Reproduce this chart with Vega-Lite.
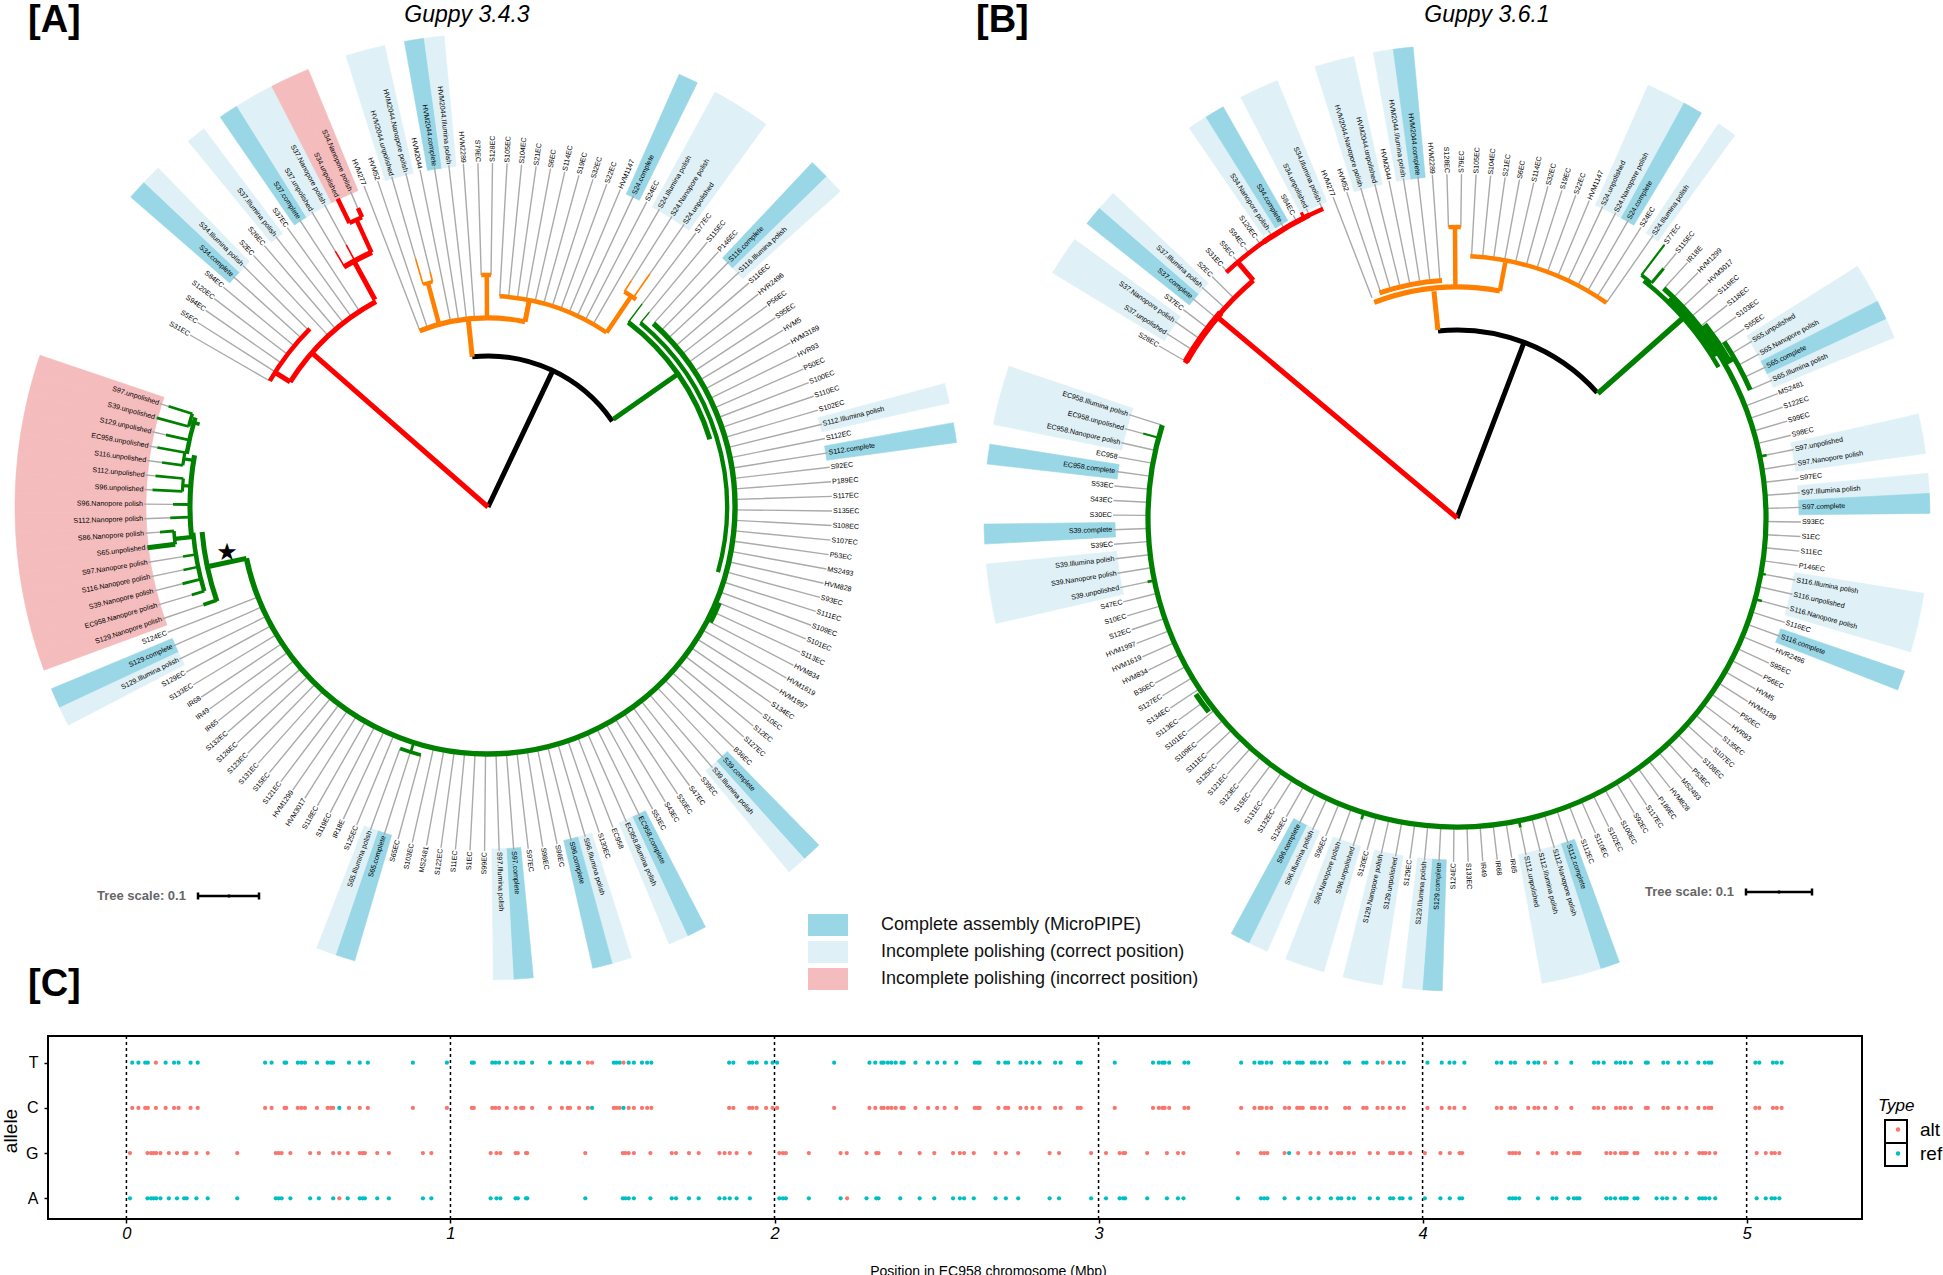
{"$schema":"https://vega.github.io/schema/vega-lite/v6.json","padding":{"left":0,"top":0,"right":0,"bottom":0},"background":"white","spacing":-2,"config":{"font":"Liberation Sans","view":{"stroke":null}},"datasets":{
"leavesA":[{"label":"S31EC","a":300,"r":253},{"label":"S5EC","a":302.43,"r":253},{"label":"S94EC","a":304.86,"r":253},{"label":"S120EC","a":307.29,"r":253},{"label":"S84EC","a":309.72,"r":253},{"label":"S34.complete","a":312.15,"r":253},{"label":"S34.Illumina polish","a":314.58,"r":253},{"label":"S2EC","a":317.01,"r":235},{"label":"S26EC","a":319.44,"r":235},{"label":"S37.Illumina polish","a":321.87,"r":235},{"label":"S37EC","a":324.3,"r":235},{"label":"S37.complete","a":326.73,"r":235},{"label":"S37.unpolished","a":329.16,"r":298},{"label":"S37.Nanopore polish","a":331.59,"r":298},{"label":"S34.unpolished","a":334.02,"r":343},{"label":"S34.Nanopore polish","a":336.45,"r":326},{"label":"HVM277","a":338.88,"r":189},{"label":"HVM52","a":341.31,"r":189},{"label":"HVM2044.unpolished","a":343.74,"r":259},{"label":"HVM2044.Nanopore polish","a":346.17,"r":242},{"label":"HVM2044","a":348.6,"r":190},{"label":"HVM2044.complete","a":351.03,"r":190},{"label":"HVM2044.Illumina polish","a":353.46,"r":190},{"label":"HVM2289","a":355.89,"r":190},{"label":"S79EC","a":358.32,"r":232},{"label":"S128EC","a":0.75,"r":232},{"label":"S105EC","a":3.18,"r":211},{"label":"S104EC","a":5.61,"r":211},{"label":"S21EC","a":8.04,"r":211},{"label":"S6EC","a":10.47,"r":211},{"label":"S114EC","a":12.9,"r":211},{"label":"S19EC","a":15.33,"r":211},{"label":"S32EC","a":17.76,"r":211},{"label":"S22EC","a":20.19,"r":211},{"label":"HVM1147","a":22.62,"r":211},{"label":"S24.complete","a":25.05,"r":211},{"label":"S24EC","a":27.48,"r":211},{"label":"S24.Illumina polish","a":29.91,"r":211},{"label":"S24.Nanopore polish","a":32.34,"r":268},{"label":"S24.unpolished","a":34.77,"r":284},{"label":"S77EC","a":37.2,"r":255},{"label":"S115EC","a":39.63,"r":253},{"label":"P146EC","a":42.06,"r":248},{"label":"S116.complete","a":44.49,"r":248},{"label":"S116.Illumina polish","a":46.92,"r":248},{"label":"S116EC","a":49.35,"r":248},{"label":"HVR2496","a":51.78,"r":248},{"label":"P56EC","a":54.21,"r":248},{"label":"S95EC","a":56.64,"r":248},{"label":"HVM5","a":59.07,"r":248},{"label":"HVM3189","a":61.5,"r":248},{"label":"HVR93","a":63.93,"r":248},{"label":"P50EC","a":66.36,"r":248},{"label":"S100EC","a":68.79,"r":248},{"label":"S110EC","a":71.22,"r":248},{"label":"S102EC","a":73.65,"r":248},{"label":"S112.Illumina polish","a":76.08,"r":248},{"label":"S112EC","a":78.51,"r":248},{"label":"S112.complete","a":80.94,"r":248},{"label":"S92EC","a":83.37,"r":248},{"label":"P189EC","a":85.8,"r":248},{"label":"S117EC","a":88.23,"r":248},{"label":"S135EC","a":90.66,"r":248},{"label":"S108EC","a":93.09,"r":248},{"label":"S107EC","a":95.52,"r":248},{"label":"P53EC","a":97.95,"r":248},{"label":"MS2493","a":100.38,"r":248},{"label":"HVM828","a":102.81,"r":248},{"label":"S93EC","a":105.24,"r":248},{"label":"S111EC","a":107.67,"r":248},{"label":"S109EC","a":110.1,"r":248},{"label":"S101EC","a":112.53,"r":248},{"label":"S113EC","a":114.96,"r":252},{"label":"HVM834","a":117.39,"r":248},{"label":"HVM1619","a":119.82,"r":248},{"label":"HVM1997","a":122.25,"r":248},{"label":"S134EC","a":124.68,"r":248},{"label":"S10EC","a":127.11,"r":248},{"label":"S12EC","a":129.54,"r":248},{"label":"S127EC","a":131.97,"r":248},{"label":"B36EC","a":134.4,"r":248},{"label":"S39.complete","a":136.83,"r":248},{"label":"S39.Illumina polish","a":139.26,"r":248},{"label":"S39EC","a":141.69,"r":248},{"label":"S47EC","a":144.12,"r":248},{"label":"S30EC","a":146.55,"r":248},{"label":"S43EC","a":148.98,"r":248},{"label":"S53EC","a":151.41,"r":248},{"label":"EC958.complete","a":153.84,"r":248},{"label":"EC958.Illumina polish","a":156.27,"r":248},{"label":"EC958","a":158.7,"r":248},{"label":"S130EC","a":161.13,"r":248},{"label":"S96.Illumina polish","a":163.56,"r":248},{"label":"S96.complete","a":165.99,"r":248},{"label":"S96EC","a":168.42,"r":248},{"label":"S98EC","a":170.85,"r":248},{"label":"S97EC","a":173.28,"r":248},{"label":"S97.complete","a":175.71,"r":248},{"label":"S97.Illumina polish","a":178.14,"r":248},{"label":"S99EC","a":180.57,"r":248},{"label":"S1EC","a":183,"r":248},{"label":"S11EC","a":185.43,"r":248},{"label":"S122EC","a":187.86,"r":248},{"label":"MS2481","a":190.29,"r":248},{"label":"S103EC","a":192.72,"r":248},{"label":"S65EC","a":195.15,"r":257},{"label":"S65.complete","a":197.58,"r":257},{"label":"S65.Illumina polish","a":200.01,"r":257},{"label":"S125EC","a":202.44,"r":248},{"label":"IR18E","a":204.87,"r":248},{"label":"S119EC","a":207.3,"r":248},{"label":"S118EC","a":209.73,"r":248},{"label":"HVM3017","a":212.16,"r":248},{"label":"HVM1299","a":214.59,"r":248},{"label":"S121EC","a":217.02,"r":248},{"label":"S15EC","a":219.45,"r":248},{"label":"S131EC","a":221.88,"r":248},{"label":"S123EC","a":224.31,"r":248},{"label":"S126EC","a":226.74,"r":248},{"label":"S132EC","a":229.17,"r":248},{"label":"IR65","a":231.6,"r":248},{"label":"IR49","a":234.03,"r":248},{"label":"IR68","a":236.46,"r":248},{"label":"S133EC","a":238.89,"r":248},{"label":"S129EC","a":241.32,"r":248},{"label":"S129.Illumina polish","a":243.75,"r":248},{"label":"S129.complete","a":246.18,"r":248},{"label":"S124EC","a":248.61,"r":248},{"label":"S129.Nanopore polish","a":251.04,"r":301},{"label":"EC958.Nanopore polish","a":253.47,"r":309},{"label":"S39.Nanopore polish","a":255.9,"r":315},{"label":"S116.Nanopore polish","a":258.33,"r":311},{"label":"S97.Nanopore polish","a":260.76,"r":309},{"label":"S65.unpolished","a":263.19,"r":343},{"label":"S86.Nanopore polish","a":265.62,"r":329},{"label":"S112.Nanopore polish","a":268.05,"r":318},{"label":"S96.Nanopore polish","a":270.48,"r":315},{"label":"S96.unpolished","a":272.91,"r":336},{"label":"S112.unpolished","a":275.34,"r":334},{"label":"S116.unpolished","a":277.77,"r":329},{"label":"EC958.unpolished","a":280.2,"r":336},{"label":"S129.unpolished","a":282.63,"r":330},{"label":"S39.unpolished","a":285.06,"r":343},{"label":"S97.unpolished","a":287.49,"r":335}],
"leavesB":[{"label":"S28EC","a":300,"r":313},{"label":"S37.unpolished","a":302.43,"r":313},{"label":"S37.Nanopore polish","a":304.86,"r":313},{"label":"S37EC","a":307.29,"r":313},{"label":"S37.complete","a":309.72,"r":313},{"label":"S37.Illumina polish","a":312.15,"r":313},{"label":"S2EC","a":314.58,"r":313},{"label":"S31EC","a":317.01,"r":337},{"label":"S5EC","a":319.44,"r":337},{"label":"S94EC","a":321.87,"r":337},{"label":"S120EC","a":324.3,"r":337},{"label":"S34.Nanopore polish","a":326.73,"r":337},{"label":"S34.complete","a":329.16,"r":337},{"label":"S84EC","a":331.59,"r":337},{"label":"S34.unpolished","a":334.02,"r":337},{"label":"S34.Illumina polish","a":336.45,"r":337},{"label":"HVM277","a":338.88,"r":236},{"label":"HVM52","a":341.31,"r":236},{"label":"HVM2044.Nanopore polish","a":343.74,"r":236},{"label":"HVM2044.unpolished","a":346.17,"r":236},{"label":"HVM2044","a":348.6,"r":236},{"label":"HVM2044.Illumina polish","a":351.03,"r":236},{"label":"HVM2044.complete","a":353.46,"r":236},{"label":"HVM2289","a":355.89,"r":236},{"label":"S128EC","a":358.32,"r":291},{"label":"S79EC","a":0.75,"r":291},{"label":"S105EC","a":3.18,"r":263},{"label":"S104EC","a":5.61,"r":263},{"label":"S21EC","a":8.04,"r":263},{"label":"S6EC","a":10.47,"r":263},{"label":"S114EC","a":12.9,"r":263},{"label":"S32EC","a":15.33,"r":263},{"label":"S19EC","a":17.76,"r":263},{"label":"S22EC","a":20.19,"r":263},{"label":"HVM1147","a":22.62,"r":263},{"label":"S24.unpolished","a":25.05,"r":263},{"label":"S24.Nanopore polish","a":27.48,"r":263},{"label":"S24.complete","a":29.91,"r":263},{"label":"S24EC","a":32.34,"r":263},{"label":"S24.Illumina polish","a":34.77,"r":263},{"label":"S77EC","a":37.2,"r":343},{"label":"S115EC","a":39.63,"r":324},{"label":"IR18E","a":42.06,"r":310},{"label":"HVM1299","a":44.49,"r":310},{"label":"HVM3017","a":46.92,"r":310},{"label":"S119EC","a":49.35,"r":310},{"label":"S118EC","a":51.78,"r":310},{"label":"S103EC","a":54.21,"r":310},{"label":"S65EC","a":56.64,"r":310},{"label":"S65.unpolished","a":59.07,"r":322},{"label":"S65.Nanopore polish","a":61.5,"r":322},{"label":"S65.complete","a":63.93,"r":322},{"label":"S65.Illumina polish","a":66.36,"r":322},{"label":"MS2481","a":68.79,"r":310},{"label":"S122EC","a":71.22,"r":310},{"label":"S99EC","a":73.65,"r":310},{"label":"S98EC","a":76.08,"r":310},{"label":"S97.unpolished","a":78.51,"r":316},{"label":"S97.Nanopore polish","a":80.94,"r":310},{"label":"S97EC","a":83.37,"r":310},{"label":"S97.Illumina polish","a":85.8,"r":310},{"label":"S97.complete","a":88.23,"r":310},{"label":"S93EC","a":90.66,"r":310},{"label":"S1EC","a":93.09,"r":310},{"label":"S11EC","a":95.52,"r":310},{"label":"P146EC","a":97.95,"r":310},{"label":"S116.Illumina polish","a":100.38,"r":314},{"label":"S116.unpolished","a":102.81,"r":310},{"label":"S116.Nanopore polish","a":105.24,"r":316},{"label":"S116EC","a":107.67,"r":310},{"label":"S116.complete","a":110.1,"r":310},{"label":"HVR2496","a":112.53,"r":310},{"label":"S95EC","a":114.96,"r":310},{"label":"P56EC","a":117.39,"r":310},{"label":"HVM5","a":119.82,"r":310},{"label":"HVM3189","a":122.25,"r":310},{"label":"P50EC","a":124.68,"r":310},{"label":"HVR93","a":127.11,"r":310},{"label":"S135EC","a":129.54,"r":310},{"label":"S107EC","a":131.97,"r":310},{"label":"S108EC","a":134.4,"r":310},{"label":"P53EC","a":136.83,"r":310},{"label":"MS2493","a":139.26,"r":310},{"label":"HVM828","a":141.69,"r":310},{"label":"P189EC","a":144.12,"r":310},{"label":"S117EC","a":146.55,"r":310},{"label":"S92EC","a":148.98,"r":310},{"label":"S100EC","a":151.41,"r":310},{"label":"S102EC","a":153.84,"r":310},{"label":"S110EC","a":156.27,"r":310},{"label":"S112EC","a":158.7,"r":310},{"label":"S112.complete","a":161.13,"r":310},{"label":"S112.Nanopore polish","a":163.56,"r":310},{"label":"S112.Illumina polish","a":165.99,"r":310},{"label":"S112.unpolished","a":168.42,"r":316},{"label":"IR65","a":170.85,"r":310},{"label":"IR68","a":173.28,"r":310},{"label":"IR49","a":175.71,"r":310},{"label":"S133EC","a":178.14,"r":310},{"label":"S124EC","a":180.57,"r":310},{"label":"S129.complete","a":183,"r":310},{"label":"S129.Illumina polish","a":185.43,"r":310},{"label":"S129EC","a":187.86,"r":310},{"label":"S129.unpolished","a":190.29,"r":310},{"label":"S129.Nanopore polish","a":192.72,"r":310},{"label":"S130EC","a":195.15,"r":310},{"label":"S96.unpolished","a":197.58,"r":316},{"label":"S96.Nanopore polish","a":200.01,"r":310},{"label":"S96EC","a":202.44,"r":310},{"label":"S96.Illumina polish","a":204.87,"r":310},{"label":"S96.complete","a":207.3,"r":310},{"label":"S126EC","a":209.73,"r":310},{"label":"S132EC","a":212.16,"r":310},{"label":"S131EC","a":214.59,"r":310},{"label":"S15EC","a":217.02,"r":310},{"label":"S123EC","a":219.45,"r":310},{"label":"S121EC","a":221.88,"r":310},{"label":"S125EC","a":224.31,"r":310},{"label":"S111EC","a":226.74,"r":310},{"label":"S109EC","a":229.17,"r":310},{"label":"S101EC","a":231.6,"r":310},{"label":"S113EC","a":234.03,"r":315},{"label":"S134EC","a":236.46,"r":310},{"label":"S127EC","a":238.89,"r":310},{"label":"B36EC","a":241.32,"r":310},{"label":"HVM834","a":243.75,"r":310},{"label":"HVM1619","a":246.18,"r":310},{"label":"HVM1997","a":248.61,"r":310},{"label":"S12EC","a":251.04,"r":310},{"label":"S10EC","a":253.47,"r":310},{"label":"S47EC","a":255.9,"r":310},{"label":"S39.unpolished","a":258.33,"r":316},{"label":"S39.Nanopore polish","a":260.76,"r":310},{"label":"S39.Illumina polish","a":263.19,"r":310},{"label":"S39EC","a":265.62,"r":310},{"label":"S39.complete","a":268.05,"r":310},{"label":"S30EC","a":270.48,"r":310},{"label":"S43EC","a":272.91,"r":310},{"label":"S53EC","a":275.34,"r":310},{"label":"EC958.complete","a":277.77,"r":310},{"label":"EC958","a":280.2,"r":310},{"label":"EC958.Nanopore polish","a":282.63,"r":310},{"label":"EC958.unpolished","a":285.06,"r":325},{"label":"EC958.Illumina polish","a":287.49,"r":310}],
"wedgesA":[{"sample":"S34.complete","a":310.935,"a2":313.365,"status":"complete"},{"sample":"S34.Illumina polish","a":313.365,"a2":315.795,"status":"correct"},{"sample":"S37.Illumina polish","a":320.655,"a2":323.085,"status":"correct"},{"sample":"S37.complete","a":325.515,"a2":327.945,"status":"complete"},{"sample":"S37.unpolished","a":327.945,"a2":330.375,"status":"correct"},{"sample":"S37.Nanopore polish","a":330.375,"a2":332.805,"status":"correct"},{"sample":"S34.unpolished","a":332.805,"a2":335.235,"status":"incorrect"},{"sample":"S34.Nanopore polish","a":335.235,"a2":337.665,"status":"incorrect"},{"sample":"HVM2044.unpolished","a":342.525,"a2":344.955,"status":"correct"},{"sample":"HVM2044.Nanopore polish","a":344.955,"a2":347.385,"status":"correct"},{"sample":"HVM2044.complete","a":349.815,"a2":352.245,"status":"complete"},{"sample":"HVM2044.Illumina polish","a":352.245,"a2":354.675,"status":"correct"},{"sample":"S24.complete","a":23.835,"a2":26.265,"status":"complete"},{"sample":"S24.Illumina polish","a":28.695,"a2":31.125,"status":"correct"},{"sample":"S24.Nanopore polish","a":31.125,"a2":33.555,"status":"correct"},{"sample":"S24.unpolished","a":33.555,"a2":35.985,"status":"correct"},{"sample":"S116.complete","a":43.275,"a2":45.705,"status":"complete"},{"sample":"S116.Illumina polish","a":45.705,"a2":48.135,"status":"correct"},{"sample":"S112.Illumina polish","a":74.865,"a2":77.295,"status":"correct"},{"sample":"S112.complete","a":79.725,"a2":82.155,"status":"complete"},{"sample":"S39.complete","a":135.615,"a2":138.045,"status":"complete"},{"sample":"S39.Illumina polish","a":138.045,"a2":140.475,"status":"correct"},{"sample":"EC958.complete","a":152.625,"a2":155.055,"status":"complete"},{"sample":"EC958.Illumina polish","a":155.055,"a2":157.485,"status":"correct"},{"sample":"S96.Illumina polish","a":162.345,"a2":164.775,"status":"correct"},{"sample":"S96.complete","a":164.775,"a2":167.205,"status":"complete"},{"sample":"S97.complete","a":174.495,"a2":176.925,"status":"complete"},{"sample":"S97.Illumina polish","a":176.925,"a2":179.355,"status":"correct"},{"sample":"S65.complete","a":196.365,"a2":198.795,"status":"complete"},{"sample":"S65.Illumina polish","a":198.795,"a2":201.225,"status":"correct"},{"sample":"S129.Illumina polish","a":242.535,"a2":244.965,"status":"correct"},{"sample":"S129.complete","a":244.965,"a2":247.395,"status":"complete"},{"sample":"S129.Nanopore polish","a":249.825,"a2":252.255,"status":"incorrect"},{"sample":"EC958.Nanopore polish","a":252.255,"a2":254.685,"status":"incorrect"},{"sample":"S39.Nanopore polish","a":254.685,"a2":257.115,"status":"incorrect"},{"sample":"S116.Nanopore polish","a":257.115,"a2":259.545,"status":"incorrect"},{"sample":"S97.Nanopore polish","a":259.545,"a2":261.975,"status":"incorrect"},{"sample":"S65.unpolished","a":261.975,"a2":264.405,"status":"incorrect"},{"sample":"S86.Nanopore polish","a":264.405,"a2":266.835,"status":"incorrect"},{"sample":"S112.Nanopore polish","a":266.835,"a2":269.265,"status":"incorrect"},{"sample":"S96.Nanopore polish","a":269.265,"a2":271.695,"status":"incorrect"},{"sample":"S96.unpolished","a":271.695,"a2":274.125,"status":"incorrect"},{"sample":"S112.unpolished","a":274.125,"a2":276.555,"status":"incorrect"},{"sample":"S116.unpolished","a":276.555,"a2":278.985,"status":"incorrect"},{"sample":"EC958.unpolished","a":278.985,"a2":281.415,"status":"incorrect"},{"sample":"S129.unpolished","a":281.415,"a2":283.845,"status":"incorrect"},{"sample":"S39.unpolished","a":283.845,"a2":286.275,"status":"incorrect"},{"sample":"S97.unpolished","a":286.275,"a2":288.705,"status":"incorrect"}],
"wedgesB":[{"sample":"S37.unpolished","a":301.215,"a2":303.645,"status":"correct"},{"sample":"S37.Nanopore polish","a":303.645,"a2":306.075,"status":"correct"},{"sample":"S37.complete","a":308.505,"a2":310.935,"status":"complete"},{"sample":"S37.Illumina polish","a":310.935,"a2":313.365,"status":"correct"},{"sample":"S34.Nanopore polish","a":325.515,"a2":327.945,"status":"correct"},{"sample":"S34.complete","a":327.945,"a2":330.375,"status":"complete"},{"sample":"S34.unpolished","a":332.805,"a2":335.235,"status":"correct"},{"sample":"S34.Illumina polish","a":335.235,"a2":337.665,"status":"correct"},{"sample":"HVM2044.Nanopore polish","a":342.525,"a2":344.955,"status":"correct"},{"sample":"HVM2044.unpolished","a":344.955,"a2":347.385,"status":"correct"},{"sample":"HVM2044.Illumina polish","a":349.815,"a2":352.245,"status":"correct"},{"sample":"HVM2044.complete","a":352.245,"a2":354.675,"status":"complete"},{"sample":"S24.unpolished","a":23.835,"a2":26.265,"status":"correct"},{"sample":"S24.Nanopore polish","a":26.265,"a2":28.695,"status":"correct"},{"sample":"S24.complete","a":28.695,"a2":31.125,"status":"complete"},{"sample":"S24.Illumina polish","a":33.555,"a2":35.985,"status":"correct"},{"sample":"S65.unpolished","a":57.855,"a2":60.285,"status":"correct"},{"sample":"S65.Nanopore polish","a":60.285,"a2":62.715,"status":"correct"},{"sample":"S65.complete","a":62.715,"a2":65.145,"status":"complete"},{"sample":"S65.Illumina polish","a":65.145,"a2":67.575,"status":"correct"},{"sample":"S97.unpolished","a":77.295,"a2":79.725,"status":"correct"},{"sample":"S97.Nanopore polish","a":79.725,"a2":82.155,"status":"correct"},{"sample":"S97.Illumina polish","a":84.585,"a2":87.015,"status":"correct"},{"sample":"S97.complete","a":87.015,"a2":89.445,"status":"complete"},{"sample":"S116.Illumina polish","a":99.165,"a2":101.595,"status":"correct"},{"sample":"S116.unpolished","a":101.595,"a2":104.025,"status":"correct"},{"sample":"S116.Nanopore polish","a":104.025,"a2":106.455,"status":"correct"},{"sample":"S116.complete","a":108.885,"a2":111.315,"status":"complete"},{"sample":"S112.complete","a":159.915,"a2":162.345,"status":"complete"},{"sample":"S112.Nanopore polish","a":162.345,"a2":164.775,"status":"correct"},{"sample":"S112.Illumina polish","a":164.775,"a2":167.205,"status":"correct"},{"sample":"S112.unpolished","a":167.205,"a2":169.635,"status":"correct"},{"sample":"S129.complete","a":181.785,"a2":184.215,"status":"complete"},{"sample":"S129.Illumina polish","a":184.215,"a2":186.645,"status":"correct"},{"sample":"S129.unpolished","a":189.075,"a2":191.505,"status":"correct"},{"sample":"S129.Nanopore polish","a":191.505,"a2":193.935,"status":"correct"},{"sample":"S96.unpolished","a":196.365,"a2":198.795,"status":"correct"},{"sample":"S96.Nanopore polish","a":198.795,"a2":201.225,"status":"correct"},{"sample":"S96.Illumina polish","a":203.655,"a2":206.085,"status":"correct"},{"sample":"S96.complete","a":206.085,"a2":208.515,"status":"complete"},{"sample":"S39.unpolished","a":257.115,"a2":259.545,"status":"correct"},{"sample":"S39.Nanopore polish","a":259.545,"a2":261.975,"status":"correct"},{"sample":"S39.Illumina polish","a":261.975,"a2":264.405,"status":"correct"},{"sample":"S39.complete","a":266.835,"a2":269.265,"status":"complete"},{"sample":"EC958.complete","a":276.555,"a2":278.985,"status":"complete"},{"sample":"EC958.Nanopore polish","a":281.415,"a2":283.845,"status":"correct"},{"sample":"EC958.unpolished","a":283.845,"a2":286.275,"status":"correct"},{"sample":"EC958.Illumina polish","a":286.275,"a2":288.705,"status":"correct"}],
"branchesA":[{"clade":"root","a":25.4,"a2":25.4,"r":0,"r2":151,"support":56},{"clade":"root","a":-6,"a2":55.4,"r":151,"r2":151,"support":56},{"clade":"red","a":311.2,"a2":311.2,"r":0,"r2":234,"support":56},{"clade":"red","a":302.3,"a2":331.4,"r":234,"r2":234,"support":56},{"clade":"red","a":302.3,"a2":302.3,"r":234,"r2":252,"support":56},{"clade":"red","a":300,"a2":315,"r":252,"r2":252,"support":50},{"clade":"red","a":331.4,"a2":331.4,"r":236,"r2":280,"support":56},{"clade":"red","a":329,"a2":335.5,"r":280,"r2":280,"support":60},{"clade":"red","a":335.4,"a2":335.4,"r":280,"r2":316,"support":50},{"clade":"red","a":334,"a2":336.5,"r":316,"r2":316,"support":50},{"clade":"red","a":334,"a2":334,"r":316,"r2":343,"support":50},{"clade":"red","a":336.5,"a2":336.5,"r":316,"r2":326,"support":50},{"clade":"red","a":329.16,"a2":329.16,"r":280,"r2":298,"support":18},{"clade":"red","a":331.59,"a2":331.59,"r":280,"r2":298,"support":18},{"clade":"orange","a":354,"a2":354,"r":151,"r2":189,"support":56},{"clade":"orange","a":-21.2,"a2":11.3,"r":189,"r2":189,"support":56},{"clade":"orange","a":11.3,"a2":11.3,"r":189,"r2":211,"support":56},{"clade":"orange","a":3.18,"a2":34.2,"r":211,"r2":211,"support":50},{"clade":"orange","a":34.2,"a2":34.2,"r":211,"r2":255,"support":50},{"clade":"orange","a":32.34,"a2":35.5,"r":255,"r2":255,"support":50},{"clade":"orange","a":32.34,"a2":32.34,"r":255,"r2":268,"support":18},{"clade":"orange","a":34.77,"a2":34.77,"r":255,"r2":284,"support":18},{"clade":"orange","a":345,"a2":345,"r":189,"r2":232,"support":50},{"clade":"orange","a":343.74,"a2":346.17,"r":232,"r2":232,"support":40},{"clade":"orange","a":343.74,"a2":343.74,"r":232,"r2":259,"support":18},{"clade":"orange","a":346.17,"a2":346.17,"r":232,"r2":242,"support":18},{"clade":"orange","a":359.7,"a2":359.7,"r":189,"r2":232,"support":50},{"clade":"orange","a":358.32,"a2":360.75,"r":232,"r2":232,"support":50},{"clade":"green","a":55,"a2":55,"r":153,"r2":231,"support":56},{"clade":"green","a":37.2,"a2":73,"r":232,"r2":232,"support":56},{"clade":"green","a":39.63,"a2":105.8,"r":239,"r2":239,"support":48},{"clade":"green","a":42.06,"a2":258,"r":247,"r2":247,"support":60},{"clade":"green","a":37.2,"a2":37.2,"r":232,"r2":255,"support":16},{"clade":"green","a":39.63,"a2":39.63,"r":239,"r2":253,"support":16},{"clade":"green","a":112.5,"a2":117.4,"r":251,"r2":251,"support":44},{"clade":"green","a":195.15,"a2":200,"r":257,"r2":257,"support":40},{"clade":"green","a":197.5,"a2":197.5,"r":247,"r2":257,"support":30},{"clade":"green","a":258,"a2":258,"r":247,"r2":287,"support":56},{"clade":"green","a":250.8,"a2":265,"r":287,"r2":287,"support":56},{"clade":"green","a":251.04,"a2":251.04,"r":287,"r2":301,"support":40},{"clade":"green","a":253.47,"a2":265,"r":296,"r2":296,"support":50},{"clade":"green","a":253.47,"a2":253.47,"r":296,"r2":309,"support":32},{"clade":"green","a":255.9,"a2":255.9,"r":296,"r2":315,"support":32},{"clade":"green","a":258.33,"a2":258.33,"r":296,"r2":311,"support":28},{"clade":"green","a":260.76,"a2":260.76,"r":296,"r2":309,"support":28},{"clade":"green","a":264.2,"a2":264.2,"r":296,"r2":315,"support":48},{"clade":"green","a":263.19,"a2":265.62,"r":315,"r2":315,"support":40},{"clade":"green","a":263.19,"a2":263.19,"r":315,"r2":343,"support":56},{"clade":"green","a":265.62,"a2":265.62,"r":315,"r2":329,"support":32},{"clade":"green","a":264,"a2":280,"r":298,"r2":298,"support":56},{"clade":"green","a":268.05,"a2":268.05,"r":298,"r2":318,"support":32},{"clade":"green","a":270.48,"a2":270.48,"r":298,"r2":315,"support":32},{"clade":"green","a":272.91,"a2":275.34,"r":306,"r2":306,"support":36},{"clade":"green","a":272.91,"a2":272.91,"r":306,"r2":336,"support":30},{"clade":"green","a":275.34,"a2":275.34,"r":306,"r2":334,"support":30},{"clade":"green","a":274,"a2":274,"r":298,"r2":306,"support":36},{"clade":"green","a":277.77,"a2":280.2,"r":308,"r2":308,"support":36},{"clade":"green","a":277.77,"a2":277.77,"r":308,"r2":329,"support":30},{"clade":"green","a":280.2,"a2":280.2,"r":308,"r2":336,"support":30},{"clade":"green","a":279,"a2":279,"r":298,"r2":308,"support":36},{"clade":"green","a":280,"a2":287,"r":306,"r2":306,"support":50},{"clade":"green","a":282.63,"a2":282.63,"r":306,"r2":330,"support":30},{"clade":"green","a":285.06,"a2":287.49,"r":310,"r2":310,"support":40},{"clade":"green","a":285.06,"a2":285.06,"r":310,"r2":343,"support":30},{"clade":"green","a":287.49,"a2":287.49,"r":310,"r2":335,"support":30},{"clade":"green","a":286,"a2":286,"r":300,"r2":310,"support":40}],
"branchesB":[{"clade":"root","a":20.9,"a2":20.9,"r":0,"r2":188,"support":56},{"clade":"root","a":-5.8,"a2":48.2,"r":188,"r2":188,"support":56},{"clade":"red","a":310,"a2":310,"r":0,"r2":312,"support":56},{"clade":"red","a":299.7,"a2":319.4,"r":313,"r2":313,"support":56},{"clade":"red","a":300,"a2":311,"r":313,"r2":313,"support":75},{"clade":"red","a":319.4,"a2":319.4,"r":313,"r2":336,"support":56},{"clade":"red","a":316.8,"a2":336.6,"r":337,"r2":337,"support":50},{"clade":"red","a":325,"a2":334,"r":337,"r2":337,"support":60},{"clade":"red","a":333,"a2":333,"r":337,"r2":343,"support":36},{"clade":"orange","a":354.2,"a2":354.2,"r":189,"r2":228,"support":56},{"clade":"orange","a":-21,"a2":10.7,"r":231,"r2":231,"support":56},{"clade":"orange","a":-19,"a2":-3.6,"r":238,"r2":238,"support":56},{"clade":"orange","a":10.7,"a2":10.7,"r":231,"r2":260,"support":50},{"clade":"orange","a":2.9,"a2":34.8,"r":262,"r2":262,"support":50},{"clade":"orange","a":-0.4,"a2":-0.4,"r":231,"r2":291,"support":50},{"clade":"orange","a":-1.68,"a2":0.75,"r":291,"r2":291,"support":50},{"clade":"green","a":48.5,"a2":48.5,"r":188,"r2":302,"support":60},{"clade":"green","a":38.2,"a2":60,"r":302,"r2":302,"support":50},{"clade":"green","a":42,"a2":287.49,"r":309,"r2":309,"support":58},{"clade":"green","a":44,"a2":58,"r":305,"r2":305,"support":70},{"clade":"green","a":56.6,"a2":66.4,"r":320,"r2":320,"support":56},{"clade":"green","a":60,"a2":60,"r":309,"r2":320,"support":56},{"clade":"green","a":37.2,"a2":39.63,"r":305,"r2":305,"support":40},{"clade":"green","a":37.2,"a2":37.2,"r":305,"r2":343,"support":24},{"clade":"green","a":39.63,"a2":39.63,"r":305,"r2":324,"support":34},{"clade":"green","a":52,"a2":60,"r":314,"r2":314,"support":70},{"clade":"green","a":78.51,"a2":78.51,"r":309,"r2":316,"support":30},{"clade":"green","a":105.24,"a2":105.24,"r":309,"r2":316,"support":30},{"clade":"green","a":168.42,"a2":168.42,"r":309,"r2":316,"support":30},{"clade":"green","a":197.58,"a2":197.58,"r":309,"r2":316,"support":30},{"clade":"green","a":232,"a2":236,"r":315,"r2":315,"support":60},{"clade":"green","a":258.33,"a2":258.33,"r":309,"r2":316,"support":30},{"clade":"green","a":285.06,"a2":285.06,"r":309,"r2":325,"support":24},{"clade":"green","a":100.38,"a2":100.38,"r":309,"r2":314,"support":24}],
"snps":[{"pos":0.018,"allele":"T","Type":"ref"},{"pos":0.037,"allele":"T","Type":"ref"},{"pos":0.058,"allele":"T","Type":"ref"},{"pos":0.066,"allele":"T","Type":"ref"},{"pos":0.091,"allele":"T","Type":"alt"},{"pos":0.121,"allele":"T","Type":"ref"},{"pos":0.147,"allele":"T","Type":"ref"},{"pos":0.161,"allele":"T","Type":"ref"},{"pos":0.198,"allele":"T","Type":"ref"},{"pos":0.22,"allele":"T","Type":"ref"},{"pos":0.428,"allele":"T","Type":"ref"},{"pos":0.448,"allele":"T","Type":"ref"},{"pos":0.488,"allele":"T","Type":"ref"},{"pos":0.493,"allele":"T","Type":"ref"},{"pos":0.529,"allele":"T","Type":"ref"},{"pos":0.54,"allele":"T","Type":"ref"},{"pos":0.551,"allele":"T","Type":"ref"},{"pos":0.588,"allele":"T","Type":"ref"},{"pos":0.621,"allele":"T","Type":"ref"},{"pos":0.631,"allele":"T","Type":"ref"},{"pos":0.638,"allele":"T","Type":"ref"},{"pos":0.687,"allele":"T","Type":"ref"},{"pos":0.72,"allele":"T","Type":"ref"},{"pos":0.745,"allele":"T","Type":"ref"},{"pos":0.884,"allele":"T","Type":"ref"},{"pos":0.989,"allele":"T","Type":"ref"},{"pos":1.066,"allele":"T","Type":"ref"},{"pos":1.072,"allele":"T","Type":"ref"},{"pos":1.129,"allele":"T","Type":"ref"},{"pos":1.139,"allele":"T","Type":"ref"},{"pos":1.15,"allele":"T","Type":"ref"},{"pos":1.174,"allele":"T","Type":"ref"},{"pos":1.201,"allele":"T","Type":"ref"},{"pos":1.218,"allele":"T","Type":"ref"},{"pos":1.225,"allele":"T","Type":"ref"},{"pos":1.252,"allele":"T","Type":"ref"},{"pos":1.307,"allele":"T","Type":"ref"},{"pos":1.344,"allele":"T","Type":"ref"},{"pos":1.362,"allele":"T","Type":"ref"},{"pos":1.369,"allele":"T","Type":"ref"},{"pos":1.397,"allele":"T","Type":"ref"},{"pos":1.424,"allele":"T","Type":"alt"},{"pos":1.437,"allele":"T","Type":"alt"},{"pos":1.504,"allele":"T","Type":"ref"},{"pos":1.512,"allele":"T","Type":"ref"},{"pos":1.522,"allele":"T","Type":"ref"},{"pos":1.534,"allele":"T","Type":"alt"},{"pos":1.55,"allele":"T","Type":"ref"},{"pos":1.566,"allele":"T","Type":"ref"},{"pos":1.591,"allele":"T","Type":"ref"},{"pos":1.607,"allele":"T","Type":"ref"},{"pos":1.62,"allele":"T","Type":"ref"},{"pos":1.86,"allele":"T","Type":"ref"},{"pos":1.873,"allele":"T","Type":"ref"},{"pos":1.922,"allele":"T","Type":"ref"},{"pos":1.932,"allele":"T","Type":"ref"},{"pos":1.945,"allele":"T","Type":"ref"},{"pos":1.974,"allele":"T","Type":"ref"},{"pos":1.994,"allele":"T","Type":"ref"},{"pos":2.008,"allele":"T","Type":"ref"},{"pos":2.184,"allele":"T","Type":"ref"},{"pos":2.293,"allele":"T","Type":"ref"},{"pos":2.311,"allele":"T","Type":"ref"},{"pos":2.33,"allele":"T","Type":"ref"},{"pos":2.337,"allele":"T","Type":"ref"},{"pos":2.35,"allele":"T","Type":"ref"},{"pos":2.361,"allele":"T","Type":"ref"},{"pos":2.374,"allele":"T","Type":"ref"},{"pos":2.392,"allele":"T","Type":"ref"},{"pos":2.399,"allele":"T","Type":"ref"},{"pos":2.435,"allele":"T","Type":"ref"},{"pos":2.474,"allele":"T","Type":"ref"},{"pos":2.502,"allele":"T","Type":"ref"},{"pos":2.525,"allele":"T","Type":"ref"},{"pos":2.561,"allele":"T","Type":"ref"},{"pos":2.618,"allele":"T","Type":"ref"},{"pos":2.627,"allele":"T","Type":"ref"},{"pos":2.633,"allele":"T","Type":"ref"},{"pos":2.691,"allele":"T","Type":"ref"},{"pos":2.712,"allele":"T","Type":"ref"},{"pos":2.721,"allele":"T","Type":"ref"},{"pos":2.759,"allele":"T","Type":"ref"},{"pos":2.777,"allele":"T","Type":"ref"},{"pos":2.796,"allele":"T","Type":"ref"},{"pos":2.818,"allele":"T","Type":"ref"},{"pos":2.866,"allele":"T","Type":"ref"},{"pos":2.883,"allele":"T","Type":"ref"},{"pos":2.936,"allele":"T","Type":"ref"},{"pos":2.945,"allele":"T","Type":"ref"},{"pos":3.05,"allele":"T","Type":"ref"},{"pos":3.168,"allele":"T","Type":"ref"},{"pos":3.186,"allele":"T","Type":"ref"},{"pos":3.197,"allele":"T","Type":"ref"},{"pos":3.204,"allele":"T","Type":"ref"},{"pos":3.218,"allele":"T","Type":"ref"},{"pos":3.265,"allele":"T","Type":"ref"},{"pos":3.277,"allele":"T","Type":"ref"},{"pos":3.44,"allele":"T","Type":"ref"},{"pos":3.481,"allele":"T","Type":"ref"},{"pos":3.497,"allele":"T","Type":"ref"},{"pos":3.504,"allele":"T","Type":"ref"},{"pos":3.519,"allele":"T","Type":"ref"},{"pos":3.533,"allele":"T","Type":"ref"},{"pos":3.575,"allele":"T","Type":"ref"},{"pos":3.588,"allele":"T","Type":"ref"},{"pos":3.613,"allele":"T","Type":"ref"},{"pos":3.622,"allele":"T","Type":"ref"},{"pos":3.63,"allele":"T","Type":"ref"},{"pos":3.658,"allele":"T","Type":"ref"},{"pos":3.667,"allele":"T","Type":"ref"},{"pos":3.684,"allele":"T","Type":"ref"},{"pos":3.703,"allele":"T","Type":"ref"},{"pos":3.761,"allele":"T","Type":"ref"},{"pos":3.773,"allele":"T","Type":"ref"},{"pos":3.817,"allele":"T","Type":"ref"},{"pos":3.827,"allele":"T","Type":"ref"},{"pos":3.861,"allele":"T","Type":"ref"},{"pos":3.877,"allele":"T","Type":"alt"},{"pos":3.899,"allele":"T","Type":"ref"},{"pos":3.924,"allele":"T","Type":"ref"},{"pos":3.942,"allele":"T","Type":"ref"},{"pos":4.015,"allele":"T","Type":"ref"},{"pos":4.059,"allele":"T","Type":"ref"},{"pos":4.083,"allele":"T","Type":"ref"},{"pos":4.098,"allele":"T","Type":"ref"},{"pos":4.129,"allele":"T","Type":"ref"},{"pos":4.229,"allele":"T","Type":"ref"},{"pos":4.243,"allele":"T","Type":"ref"},{"pos":4.272,"allele":"T","Type":"ref"},{"pos":4.285,"allele":"T","Type":"ref"},{"pos":4.326,"allele":"T","Type":"ref"},{"pos":4.345,"allele":"T","Type":"ref"},{"pos":4.357,"allele":"T","Type":"ref"},{"pos":4.378,"allele":"T","Type":"alt"},{"pos":4.413,"allele":"T","Type":"ref"},{"pos":4.459,"allele":"T","Type":"ref"},{"pos":4.529,"allele":"T","Type":"ref"},{"pos":4.542,"allele":"T","Type":"ref"},{"pos":4.559,"allele":"T","Type":"ref"},{"pos":4.597,"allele":"T","Type":"ref"},{"pos":4.61,"allele":"T","Type":"ref"},{"pos":4.624,"allele":"T","Type":"ref"},{"pos":4.643,"allele":"T","Type":"ref"},{"pos":4.689,"allele":"T","Type":"ref"},{"pos":4.695,"allele":"T","Type":"ref"},{"pos":4.743,"allele":"T","Type":"ref"},{"pos":4.757,"allele":"T","Type":"ref"},{"pos":4.791,"allele":"T","Type":"ref"},{"pos":4.814,"allele":"T","Type":"ref"},{"pos":4.851,"allele":"T","Type":"ref"},{"pos":4.871,"allele":"T","Type":"ref"},{"pos":4.883,"allele":"T","Type":"ref"},{"pos":4.891,"allele":"T","Type":"ref"},{"pos":5.027,"allele":"T","Type":"ref"},{"pos":5.039,"allele":"T","Type":"ref"},{"pos":5.081,"allele":"T","Type":"ref"},{"pos":5.093,"allele":"T","Type":"ref"},{"pos":5.108,"allele":"T","Type":"ref"},
{"pos":0.018,"allele":"C","Type":"alt"},{"pos":0.037,"allele":"C","Type":"alt"},{"pos":0.058,"allele":"C","Type":"alt"},{"pos":0.066,"allele":"C","Type":"alt"},{"pos":0.091,"allele":"C","Type":"alt"},{"pos":0.121,"allele":"C","Type":"alt"},{"pos":0.147,"allele":"C","Type":"alt"},{"pos":0.161,"allele":"C","Type":"alt"},{"pos":0.198,"allele":"C","Type":"alt"},{"pos":0.22,"allele":"C","Type":"alt"},{"pos":0.428,"allele":"C","Type":"alt"},{"pos":0.448,"allele":"C","Type":"alt"},{"pos":0.488,"allele":"C","Type":"alt"},{"pos":0.493,"allele":"C","Type":"alt"},{"pos":0.529,"allele":"C","Type":"alt"},{"pos":0.54,"allele":"C","Type":"alt"},{"pos":0.551,"allele":"C","Type":"alt"},{"pos":0.588,"allele":"C","Type":"alt"},{"pos":0.621,"allele":"C","Type":"alt"},{"pos":0.631,"allele":"C","Type":"alt"},{"pos":0.638,"allele":"C","Type":"alt"},{"pos":0.657,"allele":"C","Type":"ref"},{"pos":0.687,"allele":"C","Type":"alt"},{"pos":0.72,"allele":"C","Type":"alt"},{"pos":0.745,"allele":"C","Type":"alt"},{"pos":0.884,"allele":"C","Type":"alt"},{"pos":0.989,"allele":"C","Type":"alt"},{"pos":1.066,"allele":"C","Type":"alt"},{"pos":1.072,"allele":"C","Type":"alt"},{"pos":1.129,"allele":"C","Type":"alt"},{"pos":1.139,"allele":"C","Type":"alt"},{"pos":1.15,"allele":"C","Type":"alt"},{"pos":1.174,"allele":"C","Type":"alt"},{"pos":1.201,"allele":"C","Type":"alt"},{"pos":1.218,"allele":"C","Type":"alt"},{"pos":1.225,"allele":"C","Type":"alt"},{"pos":1.252,"allele":"C","Type":"alt"},{"pos":1.307,"allele":"C","Type":"alt"},{"pos":1.344,"allele":"C","Type":"alt"},{"pos":1.362,"allele":"C","Type":"alt"},{"pos":1.369,"allele":"C","Type":"alt"},{"pos":1.397,"allele":"C","Type":"alt"},{"pos":1.424,"allele":"C","Type":"alt"},{"pos":1.437,"allele":"C","Type":"ref"},{"pos":1.504,"allele":"C","Type":"alt"},{"pos":1.512,"allele":"C","Type":"alt"},{"pos":1.522,"allele":"C","Type":"alt"},{"pos":1.534,"allele":"C","Type":"ref"},{"pos":1.55,"allele":"C","Type":"alt"},{"pos":1.566,"allele":"C","Type":"alt"},{"pos":1.591,"allele":"C","Type":"alt"},{"pos":1.607,"allele":"C","Type":"alt"},{"pos":1.62,"allele":"C","Type":"alt"},{"pos":1.86,"allele":"C","Type":"alt"},{"pos":1.873,"allele":"C","Type":"alt"},{"pos":1.922,"allele":"C","Type":"alt"},{"pos":1.932,"allele":"C","Type":"alt"},{"pos":1.945,"allele":"C","Type":"alt"},{"pos":1.974,"allele":"C","Type":"alt"},{"pos":1.994,"allele":"C","Type":"alt"},{"pos":2.008,"allele":"C","Type":"alt"},{"pos":2.184,"allele":"C","Type":"alt"},{"pos":2.293,"allele":"C","Type":"alt"},{"pos":2.311,"allele":"C","Type":"alt"},{"pos":2.33,"allele":"C","Type":"alt"},{"pos":2.337,"allele":"C","Type":"alt"},{"pos":2.35,"allele":"C","Type":"alt"},{"pos":2.361,"allele":"C","Type":"alt"},{"pos":2.374,"allele":"C","Type":"alt"},{"pos":2.392,"allele":"C","Type":"alt"},{"pos":2.399,"allele":"C","Type":"alt"},{"pos":2.435,"allele":"C","Type":"alt"},{"pos":2.474,"allele":"C","Type":"alt"},{"pos":2.502,"allele":"C","Type":"alt"},{"pos":2.525,"allele":"C","Type":"alt"},{"pos":2.561,"allele":"C","Type":"alt"},{"pos":2.618,"allele":"C","Type":"alt"},{"pos":2.627,"allele":"C","Type":"alt"},{"pos":2.633,"allele":"C","Type":"alt"},{"pos":2.691,"allele":"C","Type":"alt"},{"pos":2.712,"allele":"C","Type":"alt"},{"pos":2.721,"allele":"C","Type":"alt"},{"pos":2.759,"allele":"C","Type":"alt"},{"pos":2.777,"allele":"C","Type":"alt"},{"pos":2.796,"allele":"C","Type":"alt"},{"pos":2.818,"allele":"C","Type":"alt"},{"pos":2.866,"allele":"C","Type":"alt"},{"pos":2.883,"allele":"C","Type":"alt"},{"pos":2.936,"allele":"C","Type":"alt"},{"pos":2.945,"allele":"C","Type":"alt"},{"pos":3.05,"allele":"C","Type":"alt"},{"pos":3.168,"allele":"C","Type":"alt"},{"pos":3.186,"allele":"C","Type":"alt"},{"pos":3.197,"allele":"C","Type":"alt"},{"pos":3.204,"allele":"C","Type":"alt"},{"pos":3.218,"allele":"C","Type":"alt"},{"pos":3.265,"allele":"C","Type":"alt"},{"pos":3.277,"allele":"C","Type":"alt"},{"pos":3.44,"allele":"C","Type":"alt"},{"pos":3.481,"allele":"C","Type":"alt"},{"pos":3.497,"allele":"C","Type":"alt"},{"pos":3.504,"allele":"C","Type":"alt"},{"pos":3.519,"allele":"C","Type":"alt"},{"pos":3.533,"allele":"C","Type":"alt"},{"pos":3.575,"allele":"C","Type":"alt"},{"pos":3.588,"allele":"C","Type":"alt"},{"pos":3.613,"allele":"C","Type":"alt"},{"pos":3.622,"allele":"C","Type":"alt"},{"pos":3.63,"allele":"C","Type":"alt"},{"pos":3.658,"allele":"C","Type":"alt"},{"pos":3.667,"allele":"C","Type":"alt"},{"pos":3.684,"allele":"C","Type":"alt"},{"pos":3.703,"allele":"C","Type":"alt"},{"pos":3.761,"allele":"C","Type":"alt"},{"pos":3.773,"allele":"C","Type":"alt"},{"pos":3.817,"allele":"C","Type":"alt"},{"pos":3.827,"allele":"C","Type":"alt"},{"pos":3.861,"allele":"C","Type":"alt"},{"pos":3.877,"allele":"C","Type":"alt"},{"pos":3.899,"allele":"C","Type":"alt"},{"pos":3.924,"allele":"C","Type":"alt"},{"pos":3.942,"allele":"C","Type":"alt"},{"pos":4.015,"allele":"C","Type":"alt"},{"pos":4.059,"allele":"C","Type":"alt"},{"pos":4.083,"allele":"C","Type":"alt"},{"pos":4.098,"allele":"C","Type":"alt"},{"pos":4.129,"allele":"C","Type":"alt"},{"pos":4.229,"allele":"C","Type":"alt"},{"pos":4.243,"allele":"C","Type":"alt"},{"pos":4.272,"allele":"C","Type":"alt"},{"pos":4.285,"allele":"C","Type":"alt"},{"pos":4.326,"allele":"C","Type":"alt"},{"pos":4.345,"allele":"C","Type":"alt"},{"pos":4.357,"allele":"C","Type":"alt"},{"pos":4.378,"allele":"C","Type":"alt"},{"pos":4.413,"allele":"C","Type":"alt"},{"pos":4.459,"allele":"C","Type":"alt"},{"pos":4.529,"allele":"C","Type":"alt"},{"pos":4.542,"allele":"C","Type":"alt"},{"pos":4.559,"allele":"C","Type":"alt"},{"pos":4.597,"allele":"C","Type":"alt"},{"pos":4.61,"allele":"C","Type":"alt"},{"pos":4.624,"allele":"C","Type":"alt"},{"pos":4.643,"allele":"C","Type":"alt"},{"pos":4.689,"allele":"C","Type":"alt"},{"pos":4.695,"allele":"C","Type":"alt"},{"pos":4.743,"allele":"C","Type":"alt"},{"pos":4.757,"allele":"C","Type":"alt"},{"pos":4.791,"allele":"C","Type":"alt"},{"pos":4.814,"allele":"C","Type":"alt"},{"pos":4.851,"allele":"C","Type":"alt"},{"pos":4.871,"allele":"C","Type":"alt"},{"pos":4.883,"allele":"C","Type":"alt"},{"pos":4.891,"allele":"C","Type":"alt"},{"pos":5.027,"allele":"C","Type":"alt"},{"pos":5.039,"allele":"C","Type":"alt"},{"pos":5.081,"allele":"C","Type":"alt"},{"pos":5.093,"allele":"C","Type":"alt"},{"pos":5.108,"allele":"C","Type":"alt"},
{"pos":0.011,"allele":"G","Type":"alt"},{"pos":0.065,"allele":"G","Type":"alt"},{"pos":0.076,"allele":"G","Type":"alt"},{"pos":0.084,"allele":"G","Type":"alt"},{"pos":0.092,"allele":"G","Type":"alt"},{"pos":0.105,"allele":"G","Type":"alt"},{"pos":0.131,"allele":"G","Type":"alt"},{"pos":0.156,"allele":"G","Type":"alt"},{"pos":0.178,"allele":"G","Type":"alt"},{"pos":0.186,"allele":"G","Type":"alt"},{"pos":0.216,"allele":"G","Type":"alt"},{"pos":0.251,"allele":"G","Type":"alt"},{"pos":0.342,"allele":"G","Type":"alt"},{"pos":0.461,"allele":"G","Type":"alt"},{"pos":0.47,"allele":"G","Type":"alt"},{"pos":0.479,"allele":"G","Type":"alt"},{"pos":0.506,"allele":"G","Type":"alt"},{"pos":0.567,"allele":"G","Type":"alt"},{"pos":0.594,"allele":"G","Type":"alt"},{"pos":0.638,"allele":"G","Type":"alt"},{"pos":0.657,"allele":"G","Type":"alt"},{"pos":0.683,"allele":"G","Type":"alt"},{"pos":0.72,"allele":"G","Type":"alt"},{"pos":0.729,"allele":"G","Type":"alt"},{"pos":0.736,"allele":"G","Type":"alt"},{"pos":0.774,"allele":"G","Type":"alt"},{"pos":0.81,"allele":"G","Type":"alt"},{"pos":0.915,"allele":"G","Type":"alt"},{"pos":0.941,"allele":"G","Type":"alt"},{"pos":1.124,"allele":"G","Type":"alt"},{"pos":1.142,"allele":"G","Type":"alt"},{"pos":1.154,"allele":"G","Type":"alt"},{"pos":1.201,"allele":"G","Type":"alt"},{"pos":1.208,"allele":"G","Type":"alt"},{"pos":1.233,"allele":"G","Type":"alt"},{"pos":1.237,"allele":"G","Type":"alt"},{"pos":1.416,"allele":"G","Type":"alt"},{"pos":1.532,"allele":"G","Type":"alt"},{"pos":1.54,"allele":"G","Type":"alt"},{"pos":1.55,"allele":"G","Type":"alt"},{"pos":1.566,"allele":"G","Type":"alt"},{"pos":1.617,"allele":"G","Type":"alt"},{"pos":1.683,"allele":"G","Type":"alt"},{"pos":1.696,"allele":"G","Type":"alt"},{"pos":1.736,"allele":"G","Type":"alt"},{"pos":1.766,"allele":"G","Type":"alt"},{"pos":1.83,"allele":"G","Type":"alt"},{"pos":1.846,"allele":"G","Type":"alt"},{"pos":1.862,"allele":"G","Type":"alt"},{"pos":1.883,"allele":"G","Type":"alt"},{"pos":1.924,"allele":"G","Type":"alt"},{"pos":2.015,"allele":"G","Type":"alt"},{"pos":2.026,"allele":"G","Type":"alt"},{"pos":2.035,"allele":"G","Type":"alt"},{"pos":2.106,"allele":"G","Type":"alt"},{"pos":2.204,"allele":"G","Type":"alt"},{"pos":2.223,"allele":"G","Type":"alt"},{"pos":2.284,"allele":"G","Type":"alt"},{"pos":2.314,"allele":"G","Type":"alt"},{"pos":2.321,"allele":"G","Type":"alt"},{"pos":2.388,"allele":"G","Type":"alt"},{"pos":2.448,"allele":"G","Type":"alt"},{"pos":2.493,"allele":"G","Type":"alt"},{"pos":2.551,"allele":"G","Type":"alt"},{"pos":2.572,"allele":"G","Type":"alt"},{"pos":2.585,"allele":"G","Type":"alt"},{"pos":2.615,"allele":"G","Type":"alt"},{"pos":2.682,"allele":"G","Type":"alt"},{"pos":2.714,"allele":"G","Type":"alt"},{"pos":2.752,"allele":"G","Type":"alt"},{"pos":2.849,"allele":"G","Type":"alt"},{"pos":2.878,"allele":"G","Type":"alt"},{"pos":2.977,"allele":"G","Type":"alt"},{"pos":3.023,"allele":"G","Type":"alt"},{"pos":3.065,"allele":"G","Type":"alt"},{"pos":3.076,"allele":"G","Type":"alt"},{"pos":3.082,"allele":"G","Type":"alt"},{"pos":3.15,"allele":"G","Type":"alt"},{"pos":3.211,"allele":"G","Type":"alt"},{"pos":3.245,"allele":"G","Type":"alt"},{"pos":3.262,"allele":"G","Type":"alt"},{"pos":3.43,"allele":"G","Type":"alt"},{"pos":3.501,"allele":"G","Type":"alt"},{"pos":3.511,"allele":"G","Type":"alt"},{"pos":3.521,"allele":"G","Type":"alt"},{"pos":3.574,"allele":"G","Type":"alt"},{"pos":3.588,"allele":"G","Type":"ref"},{"pos":3.616,"allele":"G","Type":"alt"},{"pos":3.654,"allele":"G","Type":"alt"},{"pos":3.679,"allele":"G","Type":"alt"},{"pos":3.717,"allele":"G","Type":"alt"},{"pos":3.739,"allele":"G","Type":"alt"},{"pos":3.749,"allele":"G","Type":"alt"},{"pos":3.772,"allele":"G","Type":"alt"},{"pos":3.788,"allele":"G","Type":"alt"},{"pos":3.837,"allele":"G","Type":"alt"},{"pos":3.862,"allele":"G","Type":"alt"},{"pos":3.9,"allele":"G","Type":"alt"},{"pos":3.909,"allele":"G","Type":"alt"},{"pos":3.93,"allele":"G","Type":"alt"},{"pos":3.938,"allele":"G","Type":"alt"},{"pos":3.962,"allele":"G","Type":"alt"},{"pos":4.007,"allele":"G","Type":"alt"},{"pos":4.055,"allele":"G","Type":"alt"},{"pos":4.084,"allele":"G","Type":"alt"},{"pos":4.114,"allele":"G","Type":"alt"},{"pos":4.122,"allele":"G","Type":"alt"},{"pos":4.268,"allele":"G","Type":"alt"},{"pos":4.278,"allele":"G","Type":"alt"},{"pos":4.287,"allele":"G","Type":"alt"},{"pos":4.298,"allele":"G","Type":"alt"},{"pos":4.356,"allele":"G","Type":"alt"},{"pos":4.401,"allele":"G","Type":"alt"},{"pos":4.413,"allele":"G","Type":"alt"},{"pos":4.45,"allele":"G","Type":"alt"},{"pos":4.467,"allele":"G","Type":"alt"},{"pos":4.476,"allele":"G","Type":"alt"},{"pos":4.484,"allele":"G","Type":"alt"},{"pos":4.567,"allele":"G","Type":"alt"},{"pos":4.58,"allele":"G","Type":"alt"},{"pos":4.594,"allele":"G","Type":"alt"},{"pos":4.612,"allele":"G","Type":"alt"},{"pos":4.622,"allele":"G","Type":"alt"},{"pos":4.63,"allele":"G","Type":"alt"},{"pos":4.654,"allele":"G","Type":"alt"},{"pos":4.663,"allele":"G","Type":"alt"},{"pos":4.722,"allele":"G","Type":"alt"},{"pos":4.74,"allele":"G","Type":"alt"},{"pos":4.754,"allele":"G","Type":"alt"},{"pos":4.778,"allele":"G","Type":"alt"},{"pos":4.815,"allele":"G","Type":"alt"},{"pos":4.854,"allele":"G","Type":"alt"},{"pos":4.864,"allele":"G","Type":"alt"},{"pos":4.873,"allele":"G","Type":"alt"},{"pos":4.885,"allele":"G","Type":"alt"},{"pos":4.903,"allele":"G","Type":"alt"},{"pos":5.031,"allele":"G","Type":"alt"},{"pos":5.059,"allele":"G","Type":"alt"},{"pos":5.077,"allele":"G","Type":"alt"},{"pos":5.087,"allele":"G","Type":"alt"},{"pos":5.101,"allele":"G","Type":"alt"},
{"pos":0.011,"allele":"A","Type":"ref"},{"pos":0.065,"allele":"A","Type":"ref"},{"pos":0.076,"allele":"A","Type":"ref"},{"pos":0.084,"allele":"A","Type":"ref"},{"pos":0.092,"allele":"A","Type":"ref"},{"pos":0.105,"allele":"A","Type":"ref"},{"pos":0.131,"allele":"A","Type":"ref"},{"pos":0.156,"allele":"A","Type":"ref"},{"pos":0.178,"allele":"A","Type":"ref"},{"pos":0.186,"allele":"A","Type":"ref"},{"pos":0.216,"allele":"A","Type":"ref"},{"pos":0.251,"allele":"A","Type":"ref"},{"pos":0.342,"allele":"A","Type":"ref"},{"pos":0.461,"allele":"A","Type":"ref"},{"pos":0.47,"allele":"A","Type":"ref"},{"pos":0.479,"allele":"A","Type":"ref"},{"pos":0.506,"allele":"A","Type":"ref"},{"pos":0.567,"allele":"A","Type":"ref"},{"pos":0.594,"allele":"A","Type":"ref"},{"pos":0.638,"allele":"A","Type":"ref"},{"pos":0.657,"allele":"A","Type":"alt"},{"pos":0.683,"allele":"A","Type":"ref"},{"pos":0.72,"allele":"A","Type":"ref"},{"pos":0.729,"allele":"A","Type":"ref"},{"pos":0.736,"allele":"A","Type":"ref"},{"pos":0.774,"allele":"A","Type":"ref"},{"pos":0.81,"allele":"A","Type":"ref"},{"pos":0.915,"allele":"A","Type":"ref"},{"pos":0.941,"allele":"A","Type":"ref"},{"pos":1.124,"allele":"A","Type":"ref"},{"pos":1.142,"allele":"A","Type":"ref"},{"pos":1.154,"allele":"A","Type":"ref"},{"pos":1.201,"allele":"A","Type":"ref"},{"pos":1.208,"allele":"A","Type":"ref"},{"pos":1.233,"allele":"A","Type":"ref"},{"pos":1.237,"allele":"A","Type":"ref"},{"pos":1.416,"allele":"A","Type":"ref"},{"pos":1.532,"allele":"A","Type":"ref"},{"pos":1.54,"allele":"A","Type":"ref"},{"pos":1.55,"allele":"A","Type":"ref"},{"pos":1.566,"allele":"A","Type":"ref"},{"pos":1.617,"allele":"A","Type":"ref"},{"pos":1.683,"allele":"A","Type":"ref"},{"pos":1.696,"allele":"A","Type":"ref"},{"pos":1.736,"allele":"A","Type":"ref"},{"pos":1.766,"allele":"A","Type":"ref"},{"pos":1.83,"allele":"A","Type":"ref"},{"pos":1.846,"allele":"A","Type":"ref"},{"pos":1.862,"allele":"A","Type":"ref"},{"pos":1.883,"allele":"A","Type":"ref"},{"pos":1.924,"allele":"A","Type":"ref"},{"pos":2.015,"allele":"A","Type":"ref"},{"pos":2.026,"allele":"A","Type":"ref"},{"pos":2.035,"allele":"A","Type":"ref"},{"pos":2.106,"allele":"A","Type":"ref"},{"pos":2.204,"allele":"A","Type":"ref"},{"pos":2.224,"allele":"A","Type":"alt"},{"pos":2.284,"allele":"A","Type":"ref"},{"pos":2.314,"allele":"A","Type":"ref"},{"pos":2.321,"allele":"A","Type":"ref"},{"pos":2.388,"allele":"A","Type":"ref"},{"pos":2.448,"allele":"A","Type":"ref"},{"pos":2.493,"allele":"A","Type":"ref"},{"pos":2.551,"allele":"A","Type":"ref"},{"pos":2.572,"allele":"A","Type":"ref"},{"pos":2.585,"allele":"A","Type":"ref"},{"pos":2.615,"allele":"A","Type":"ref"},{"pos":2.682,"allele":"A","Type":"ref"},{"pos":2.714,"allele":"A","Type":"ref"},{"pos":2.752,"allele":"A","Type":"ref"},{"pos":2.849,"allele":"A","Type":"ref"},{"pos":2.878,"allele":"A","Type":"ref"},{"pos":2.977,"allele":"A","Type":"ref"},{"pos":3.023,"allele":"A","Type":"ref"},{"pos":3.065,"allele":"A","Type":"ref"},{"pos":3.076,"allele":"A","Type":"ref"},{"pos":3.082,"allele":"A","Type":"ref"},{"pos":3.15,"allele":"A","Type":"ref"},{"pos":3.211,"allele":"A","Type":"ref"},{"pos":3.245,"allele":"A","Type":"ref"},{"pos":3.262,"allele":"A","Type":"ref"},{"pos":3.43,"allele":"A","Type":"ref"},{"pos":3.501,"allele":"A","Type":"ref"},{"pos":3.511,"allele":"A","Type":"ref"},{"pos":3.521,"allele":"A","Type":"ref"},{"pos":3.574,"allele":"A","Type":"ref"},{"pos":3.616,"allele":"A","Type":"ref"},{"pos":3.654,"allele":"A","Type":"ref"},{"pos":3.679,"allele":"A","Type":"ref"},{"pos":3.717,"allele":"A","Type":"ref"},{"pos":3.739,"allele":"A","Type":"ref"},{"pos":3.749,"allele":"A","Type":"ref"},{"pos":3.772,"allele":"A","Type":"ref"},{"pos":3.788,"allele":"A","Type":"ref"},{"pos":3.837,"allele":"A","Type":"ref"},{"pos":3.862,"allele":"A","Type":"ref"},{"pos":3.9,"allele":"A","Type":"ref"},{"pos":3.909,"allele":"A","Type":"ref"},{"pos":3.93,"allele":"A","Type":"ref"},{"pos":3.938,"allele":"A","Type":"ref"},{"pos":3.962,"allele":"A","Type":"ref"},{"pos":4.007,"allele":"A","Type":"ref"},{"pos":4.055,"allele":"A","Type":"ref"},{"pos":4.084,"allele":"A","Type":"ref"},{"pos":4.114,"allele":"A","Type":"ref"},{"pos":4.122,"allele":"A","Type":"ref"},{"pos":4.268,"allele":"A","Type":"ref"},{"pos":4.278,"allele":"A","Type":"ref"},{"pos":4.287,"allele":"A","Type":"ref"},{"pos":4.298,"allele":"A","Type":"ref"},{"pos":4.356,"allele":"A","Type":"ref"},{"pos":4.401,"allele":"A","Type":"ref"},{"pos":4.413,"allele":"A","Type":"ref"},{"pos":4.45,"allele":"A","Type":"ref"},{"pos":4.467,"allele":"A","Type":"ref"},{"pos":4.476,"allele":"A","Type":"ref"},{"pos":4.484,"allele":"A","Type":"ref"},{"pos":4.567,"allele":"A","Type":"ref"},{"pos":4.58,"allele":"A","Type":"ref"},{"pos":4.594,"allele":"A","Type":"ref"},{"pos":4.612,"allele":"A","Type":"ref"},{"pos":4.622,"allele":"A","Type":"ref"},{"pos":4.63,"allele":"A","Type":"ref"},{"pos":4.654,"allele":"A","Type":"ref"},{"pos":4.663,"allele":"A","Type":"ref"},{"pos":4.722,"allele":"A","Type":"ref"},{"pos":4.74,"allele":"A","Type":"ref"},{"pos":4.754,"allele":"A","Type":"ref"},{"pos":4.778,"allele":"A","Type":"ref"},{"pos":4.815,"allele":"A","Type":"ref"},{"pos":4.854,"allele":"A","Type":"ref"},{"pos":4.864,"allele":"A","Type":"ref"},{"pos":4.873,"allele":"A","Type":"ref"},{"pos":4.885,"allele":"A","Type":"ref"},{"pos":4.903,"allele":"A","Type":"ref"},{"pos":5.031,"allele":"A","Type":"ref"},{"pos":5.059,"allele":"A","Type":"ref"},{"pos":5.077,"allele":"A","Type":"ref"},{"pos":5.087,"allele":"A","Type":"ref"},{"pos":5.101,"allele":"A","Type":"ref"}]},
"vconcat":[{"hconcat":[{"width":880,"height":1014,"resolve":{"scale":{"stroke":"independent"}},"layer":[
{"data":{"name":"wedgesA"},"mark":{"type":"arc","strokeWidth":0.6},"encoding":{"theta":{"field":"a","type":"quantitative","scale":{"domain":[0,360],"range":[0,6.283185]}},"theta2":{"field":"a2"},"radius":{"datum":342,"scale":{"type":"linear","domain":[0,500],"range":[0,500]}},"radius2":{"datum":473},"stroke":{"field":"status","type":"nominal","legend":null,"scale":{"domain":["complete","correct","incorrect"],"range":["#99d7e6","#dff1f6","#f4bcbc"]}},"fill":{"field":"status","type":"nominal","scale":{"domain":["complete","correct","incorrect"],"range":["#99d7e6","#dff1f6","#f4bcbc"]},"legend":{"orient":"none","legendX":770,"legendY":915,"title":null,"padding":0,"symbolType":"M-2,-1.1H2V1.1H-2Z","symbolSize":400,"symbolStrokeWidth":0,"rowPadding":5,"labelOffset":43,"labelFontSize":18,"labelColor":"#111","labelLimit":400,"labelExpr":"{'complete':'Complete assembly (MicroPIPE)','correct':'Incomplete polishing (correct position)','incorrect':'Incomplete polishing (incorrect position)'}[datum.label]"}}}},
{"data":{"name":"leavesA"},"mark":{"type":"arc","fill":null,"stroke":"#aaaaaa","strokeWidth":1.4},"encoding":{"theta":{"field":"a","type":"quantitative","scale":{"domain":[0,360],"range":[0,6.283185]}},"theta2":{"field":"a"},"radius":{"field":"r","type":"quantitative","scale":{"type":"linear","domain":[0,500],"range":[0,500]}},"radius2":{"datum":344}}},
{"data":{"name":"branchesA"},"mark":{"type":"arc","fill":null,"strokeCap":"round"},"encoding":{"theta":{"field":"a","type":"quantitative","scale":{"domain":[0,360],"range":[0,6.283185]}},"theta2":{"field":"a2"},"radius":{"field":"r","type":"quantitative","scale":{"type":"linear","domain":[0,500],"range":[0,500]}},"radius2":{"field":"r2"},"stroke":{"field":"clade","type":"nominal","legend":null,"scale":{"domain":["root","red","orange","green"],"range":["#000000","#ff0000","#ff8000","#008000"]}},"strokeWidth":{"field":"support","type":"quantitative","legend":null,"scale":{"domain":[0,100],"range":[0,9]}}}},
{"data":{"name":"leavesA"},"transform":[{"filter":{"field":"a","lt":180}}],"mark":{"type":"text","align":"left","baseline":"middle","fontSize":7.1,"color":"black"},"encoding":{"theta":{"field":"a","type":"quantitative","scale":{"domain":[0,360],"range":[0,6.283185]}},"radius":{"datum":345,"scale":{"type":"linear","domain":[0,500],"range":[0,500]}},"angle":{"field":"a","type":"quantitative","scale":{"domain":[0,180,180.001,360],"range":[-90,90,-90,90]}},"text":{"field":"label"}}},
{"data":{"name":"leavesA"},"transform":[{"filter":{"field":"a","gte":180}}],"mark":{"type":"text","align":"right","baseline":"middle","fontSize":7.1,"color":"black"},"encoding":{"theta":{"field":"a","type":"quantitative","scale":{"domain":[0,360],"range":[0,6.283185]}},"radius":{"datum":345,"scale":{"type":"linear","domain":[0,500],"range":[0,500]}},"angle":{"field":"a","type":"quantitative","scale":{"domain":[0,180,180.001,360],"range":[-90,90,-90,90]}},"text":{"field":"label"}}},
{"data":{"values":[{"note":"★","a":260,"r":265}]},"mark":{"type":"text","font":"DejaVu Sans","fontSize":24,"align":"center","baseline":"middle","color":"black"},"encoding":{"theta":{"field":"a","type":"quantitative","scale":{"domain":[0,360],"range":[0,6.283185]}},"radius":{"field":"r","type":"quantitative","scale":{"type":"linear","domain":[0,500],"range":[0,500]}},"text":{"field":"note"}}},
{"data":{"values":[{"x":-290,"x2":-229,"y":389,"y2":389},{"x":-290,"x2":-290,"y":385.5,"y2":392.5},{"x":-259,"x2":-259,"y":387.5,"y2":390.5},{"x":-229,"x2":-229,"y":385.5,"y2":392.5}]},"mark":{"type":"rule","color":"black","strokeWidth":2.5},"encoding":{"x":{"field":"x","type":"quantitative","axis":null,"scale":{"domain":[-440,440],"range":[0,880]}},"x2":{"field":"x2"},"y":{"field":"y","type":"quantitative","axis":null,"scale":{"domain":[-507,507],"range":[0,1014]}},"y2":{"field":"y2"}}},
{"data":{"values":[{"t":"[A]","x":-460,"y":-475},{"t":"[C]","x":-460,"y":489}]},"mark":{"type":"text","align":"left","baseline":"alphabetic","fontSize":38,"fontWeight":"bold","color":"black"},"encoding":{"x":{"field":"x","type":"quantitative","axis":null,"scale":{"domain":[-440,440],"range":[0,880]}},"y":{"field":"y","type":"quantitative","axis":null,"scale":{"domain":[-507,507],"range":[0,1014]}},"text":{"field":"t"}}},
{"data":{"values":[{"t":"Guppy 3.4.3","x":-21,"y":-492}]},"mark":{"type":"text","align":"center","baseline":"middle","fontSize":23,"fontStyle":"italic","color":"black"},"encoding":{"x":{"field":"x","type":"quantitative","axis":null,"scale":{"domain":[-440,440],"range":[0,880]}},"y":{"field":"y","type":"quantitative","axis":null,"scale":{"domain":[-507,507],"range":[0,1014]}},"text":{"field":"t"}}},
{"data":{"values":[{"t":"Tree scale: 0.1","x":-391,"y":389}]},"mark":{"type":"text","align":"left","baseline":"middle","fontSize":13,"fontWeight":"bold","color":"#666666"},"encoding":{"x":{"field":"x","type":"quantitative","axis":null,"scale":{"domain":[-440,440],"range":[0,880]}},"y":{"field":"y","type":"quantitative","axis":null,"scale":{"domain":[-507,507],"range":[0,1014]}},"text":{"field":"t"}}}]},
{"width":800,"height":1036,"resolve":{"scale":{"stroke":"independent"}},"layer":[
{"data":{"name":"wedgesB"},"mark":{"type":"arc","strokeWidth":0.6},"encoding":{"theta":{"field":"a","type":"quantitative","scale":{"domain":[0,360],"range":[0,6.283185]}},"theta2":{"field":"a2"},"radius":{"datum":342,"scale":{"type":"linear","domain":[0,500],"range":[0,500]}},"radius2":{"datum":473},"stroke":{"field":"status","type":"nominal","legend":null,"scale":{"domain":["complete","correct","incorrect"],"range":["#99d7e6","#dff1f6","#f4bcbc"]}},"fill":{"field":"status","type":"nominal","legend":null,"scale":{"domain":["complete","correct","incorrect"],"range":["#99d7e6","#dff1f6","#f4bcbc"]}}}},
{"data":{"name":"leavesB"},"mark":{"type":"arc","fill":null,"stroke":"#aaaaaa","strokeWidth":1.4},"encoding":{"theta":{"field":"a","type":"quantitative","scale":{"domain":[0,360],"range":[0,6.283185]}},"theta2":{"field":"a"},"radius":{"field":"r","type":"quantitative","scale":{"type":"linear","domain":[0,500],"range":[0,500]}},"radius2":{"datum":344}}},
{"data":{"name":"branchesB"},"mark":{"type":"arc","fill":null,"strokeCap":"round"},"encoding":{"theta":{"field":"a","type":"quantitative","scale":{"domain":[0,360],"range":[0,6.283185]}},"theta2":{"field":"a2"},"radius":{"field":"r","type":"quantitative","scale":{"type":"linear","domain":[0,500],"range":[0,500]}},"radius2":{"field":"r2"},"stroke":{"field":"clade","type":"nominal","legend":null,"scale":{"domain":["root","red","orange","green"],"range":["#000000","#ff0000","#ff8000","#008000"]}},"strokeWidth":{"field":"support","type":"quantitative","legend":null,"scale":{"domain":[0,100],"range":[0,9]}}}},
{"data":{"name":"leavesB"},"transform":[{"filter":{"field":"a","lt":180}}],"mark":{"type":"text","align":"left","baseline":"middle","fontSize":7.1,"color":"black"},"encoding":{"theta":{"field":"a","type":"quantitative","scale":{"domain":[0,360],"range":[0,6.283185]}},"radius":{"datum":345,"scale":{"type":"linear","domain":[0,500],"range":[0,500]}},"angle":{"field":"a","type":"quantitative","scale":{"domain":[0,180,180.001,360],"range":[-90,90,-90,90]}},"text":{"field":"label"}}},
{"data":{"name":"leavesB"},"transform":[{"filter":{"field":"a","gte":180}}],"mark":{"type":"text","align":"right","baseline":"middle","fontSize":7.1,"color":"black"},"encoding":{"theta":{"field":"a","type":"quantitative","scale":{"domain":[0,360],"range":[0,6.283185]}},"radius":{"datum":345,"scale":{"type":"linear","domain":[0,500],"range":[0,500]}},"angle":{"field":"a","type":"quantitative","scale":{"domain":[0,180,180.001,360],"range":[-90,90,-90,90]}},"text":{"field":"label"}}},
{"data":{"values":[{"x":289,"x2":355,"y":374,"y2":374},{"x":289,"x2":289,"y":370.5,"y2":377.5},{"x":322,"x2":322,"y":372.5,"y2":375.5},{"x":355,"x2":355,"y":370.5,"y2":377.5}]},"mark":{"type":"rule","color":"black","strokeWidth":2.5},"encoding":{"x":{"field":"x","type":"quantitative","axis":null,"scale":{"domain":[-400,400],"range":[0,800]}},"x2":{"field":"x2"},"y":{"field":"y","type":"quantitative","axis":null,"scale":{"domain":[-518,518],"range":[0,1036]}},"y2":{"field":"y2"}}},
{"data":{"values":[{"t":"[B]","x":-481,"y":-486}]},"mark":{"type":"text","align":"left","baseline":"alphabetic","fontSize":38,"fontWeight":"bold","color":"black"},"encoding":{"x":{"field":"x","type":"quantitative","axis":null,"scale":{"domain":[-400,400],"range":[0,800]}},"y":{"field":"y","type":"quantitative","axis":null,"scale":{"domain":[-518,518],"range":[0,1036]}},"text":{"field":"t"}}},
{"data":{"values":[{"t":"Guppy 3.6.1","x":30,"y":-503}]},"mark":{"type":"text","align":"center","baseline":"middle","fontSize":23,"fontStyle":"italic","color":"black"},"encoding":{"x":{"field":"x","type":"quantitative","axis":null,"scale":{"domain":[-400,400],"range":[0,800]}},"y":{"field":"y","type":"quantitative","axis":null,"scale":{"domain":[-518,518],"range":[0,1036]}},"text":{"field":"t"}}},
{"data":{"values":[{"t":"Tree scale: 0.1","x":188,"y":374}]},"mark":{"type":"text","align":"left","baseline":"middle","fontSize":13,"fontWeight":"bold","color":"#666666"},"encoding":{"x":{"field":"x","type":"quantitative","axis":null,"scale":{"domain":[-400,400],"range":[0,800]}},"y":{"field":"y","type":"quantitative","axis":null,"scale":{"domain":[-518,518],"range":[0,1036]}},"text":{"field":"t"}}}]}],"spacing":129,"bounds":"flush"},
{"width":1814,"height":183,"view":{"stroke":"black","strokeWidth":2},"resolve":{"scale":{"x":"independent","y":"independent"}},"layer":[
{"data":{"values":[{"pos":0},{"pos":1},{"pos":2},{"pos":3},{"pos":4},{"pos":5}]},"mark":{"type":"rule","color":"black","strokeWidth":1.5,"strokeDash":[3,3]},"encoding":{"x":{"field":"pos","type":"quantitative","axis":null,"scale":{"domain":[-0.242,5.356],"nice":false}}}},
{"data":{"name":"snps"},"mark":{"type":"circle","size":18,"opacity":1},"encoding":{"x":{"field":"pos","type":"quantitative","scale":{"domain":[-0.242,5.356],"nice":false},"axis":{"values":[0,1,2,3,4,5],"grid":false,"domain":false,"tickColor":"black","tickWidth":1.5,"tickSize":4,"labelFontSize":16.5,"labelFontStyle":"italic","labelColor":"black","labelPadding":2,"title":"Position in EC958 chromosome (Mbp)","titleFontSize":14,"titleFontWeight":"normal","titleColor":"black","titleX":940,"titleY":45}},"y":{"field":"allele","type":"nominal","scale":{"type":"point","domain":["T","C","G","A"],"range":[26.7,162.3],"padding":0},"axis":{"grid":false,"domain":false,"tickColor":"black","tickWidth":1.5,"tickSize":4,"labelFontSize":16,"labelColor":"black","labelPadding":6,"title":"allele","titleFontSize":19,"titleFontWeight":"normal","titleColor":"black","titlePadding":5.5}},"color":{"field":"Type","type":"nominal","scale":{"domain":["alt","ref"],"range":["#F8766D","#00BFC4"]},"legend":{"orient":"none","legendX":1830,"legendY":1098,"title":"Type","titleFontStyle":"italic","titleFontWeight":"normal","titleFontSize":17,"titleColor":"black","titlePadding":5,"labelFontSize":19,"labelColor":"black","symbolType":"circle","symbolSize":20,"symbolOffset":10.5,"labelOffset":12.5,"rowPadding":4,"padding":0}}}},
{"data":{"values":[{"Type":"alt"},{"Type":"ref"}]},"mark":{"type":"rect","fill":"white","stroke":"black","strokeWidth":2},"encoding":{"x":{"datum":0,"type":"quantitative","axis":null,"scale":{"domain":[0,1],"range":[1837,1859]}},"x2":{"datum":1},"y":{"field":"Type","type":"nominal","axis":null,"scale":{"type":"band","domain":["alt","ref"],"range":[84,130],"paddingInner":0,"paddingOuter":0}}}}]}]}
